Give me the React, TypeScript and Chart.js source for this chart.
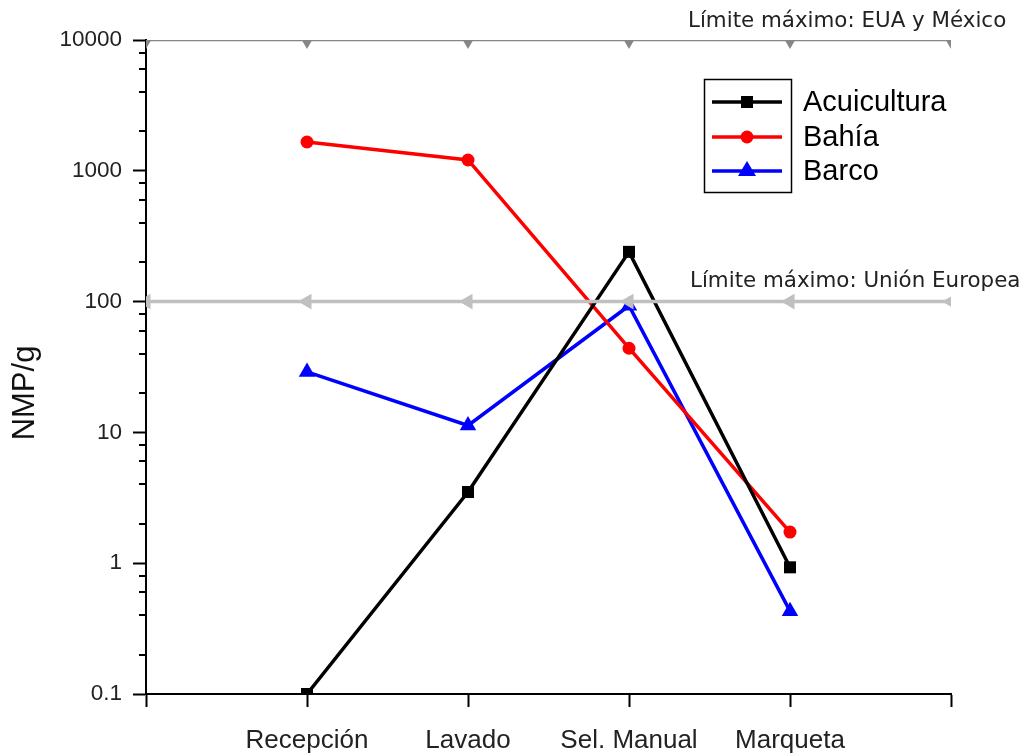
import React, { useEffect, useRef } from 'react';
import { Chart, registerables } from 'chart.js';

Chart.register(...registerables);

const categories = ['Recepción', 'Lavado', 'Sel. Manual', 'Marqueta'];
const categoryPositions = [1, 2, 3, 4];
const acuicultura = [0.1, 3.5, 240, 0.93];
const bahia = [1660, 1210, 44, 1.73];
const barco = [29, 11.3, 93, 0.43];
const limitPositions = [0, 1, 2, 3, 4, 5];
const limitEUAMexico = 10000;
const limitUE = 100;
const yTickValues = [0.1, 1, 10, 100, 1000, 10000];
const yMinorMultipliers = [2, 4, 6, 8];
const seriesNames = ['Acuicultura', 'Bahía', 'Barco'];
const seriesColors = ['#000000', '#ff0000', '#0000ff'];
const limitLabels = ['Límite máximo: EUA y México', 'Límite máximo: Unión Europea'];
const yTitle = 'NMP/g';

const SANS = '"Liberation Sans", Arial, sans-serif';

function toPoints(vals: number[]) {
  return vals.map((v, i) => ({ x: categoryPositions[i], y: v }));
}

function drawMarker(ctx: CanvasRenderingContext2D, kind: string, x: number, y: number, color: string) {
  ctx.save();
  ctx.fillStyle = color;
  ctx.beginPath();
  if (kind === 'rect') {
    ctx.rect(x - 6, y - 6, 12, 12);
  } else if (kind === 'circle') {
    ctx.arc(x, y, 6.5, 0, Math.PI * 2);
  } else {
    ctx.moveTo(x, y - 10);
    ctx.lineTo(x + 9, y + 5);
    ctx.lineTo(x - 9, y + 5);
    ctx.closePath();
  }
  ctx.fill();
  ctx.restore();
}

const overlayPlugin = {
  id: 'overlay',
  afterDraw(chart: any) {
    const ctx: CanvasRenderingContext2D = chart.ctx;
    const y = chart.scales.y;
    const x = chart.scales.x;
    const left = x.left;
    ctx.save();
    // minor ticks on log axis
    ctx.strokeStyle = '#000';
    ctx.lineWidth = 2;
    for (let p = -1; p < 4; p++) {
      for (const m of yMinorMultipliers) {
        const v = m * Math.pow(10, p);
        const py = Math.round(y.getPixelForValue(v));
        ctx.beginPath();
        ctx.moveTo(left - 7, py);
        ctx.lineTo(left, py);
        ctx.stroke();
      }
    }
    // y title
    ctx.save();
    ctx.translate(25, 393);
    ctx.rotate(-Math.PI / 2);
    ctx.font = `31px ${SANS}`;
    ctx.fillStyle = '#111';
    ctx.textAlign = 'center';
    ctx.textBaseline = 'middle';
    ctx.fillText(yTitle, 0, 0);
    ctx.restore();
    // limit labels
    ctx.font = '21.4px "DejaVu Sans", sans-serif';
    ctx.fillStyle = '#222';
    ctx.textAlign = 'left';
    ctx.textBaseline = 'alphabetic';
    ctx.fillText(limitLabels[0], 688, 27);
    ctx.fillText(limitLabels[1], 690, 287);
    // legend
    ctx.strokeStyle = '#000';
    ctx.lineWidth = 1.5;
    ctx.strokeRect(704.5, 79.5, 87, 113);
    const rowsY = [102, 137, 171];
    const kinds = ['rect', 'circle', 'triangle'];
    ctx.font = `29px ${SANS}`;
    ctx.textBaseline = 'middle';
    for (let i = 0; i < seriesNames.length; i++) {
      ctx.strokeStyle = seriesColors[i];
      ctx.lineWidth = 3.5;
      ctx.beginPath();
      ctx.moveTo(712, rowsY[i]);
      ctx.lineTo(782, rowsY[i]);
      ctx.stroke();
      drawMarker(ctx, kinds[i], 747, rowsY[i], seriesColors[i]);
      ctx.fillStyle = '#000';
      ctx.fillText(seriesNames[i], 803, rowsY[i] + 1);
    }
    ctx.restore();
  },
};

export default function App() {
  const ref = useRef<HTMLCanvasElement>(null);
  useEffect(() => {
    if (!ref.current) return;
    const chart = new Chart(ref.current, {
      type: 'line',
      data: {
        datasets: [
          {
            label: 'EUA y México',
            data: limitPositions.map((p) => ({ x: p, y: limitEUAMexico })),
            borderColor: '#868686',
            backgroundColor: '#868686',
            borderWidth: 2.5,
            pointStyle: 'triangle',
            rotation: 180,
            pointRadius: 9,
            pointBorderWidth: 0,
            order: -2,
          },
          {
            label: 'Unión Europea',
            data: limitPositions.map((p) => ({ x: p, y: limitUE })),
            borderColor: '#c0c0c0',
            backgroundColor: '#c0c0c0',
            borderWidth: 3.5,
            pointStyle: 'triangle',
            rotation: -90,
            pointRadius: 9,
            pointBorderWidth: 0,
            order: -1,
          },
          {
            label: seriesNames[0],
            data: toPoints(acuicultura),
            borderColor: seriesColors[0],
            backgroundColor: seriesColors[0],
            borderWidth: 3.5,
            pointStyle: 'rect',
            pointRadius: 8.5,
            pointBorderWidth: 0,
          },
          {
            label: seriesNames[1],
            data: toPoints(bahia),
            borderColor: seriesColors[1],
            backgroundColor: seriesColors[1],
            borderWidth: 3.5,
            pointStyle: 'circle',
            pointRadius: 6.5,
            pointBorderWidth: 0,
          },
          {
            label: seriesNames[2],
            data: toPoints(barco),
            borderColor: seriesColors[2],
            backgroundColor: seriesColors[2],
            borderWidth: 3.5,
            pointStyle: 'triangle',
            pointRadius: 9.5,
            pointBorderWidth: 0,
          },
        ],
      },
      options: {
        responsive: false,
        animation: false,
        events: [],
        layout: { padding: { top: 40, right: 74, bottom: 0, left: 0 } },
        plugins: { legend: { display: false }, tooltip: { enabled: false }, title: { display: false } },
        scales: {
          x: {
            type: 'linear',
            min: 0,
            max: 5,
            afterBuildTicks: (scale: any) => {
              scale.ticks = limitPositions.map((v) => ({ value: v }));
            },
            afterFit: (scale: any) => {
              scale.height = 60;
            },
            grid: { drawOnChartArea: false, drawTicks: true, tickLength: 13, tickColor: '#000', tickWidth: 2 },
            border: { display: true, color: '#000', width: 2 },
            ticks: {
              autoSkip: false,
              maxRotation: 0,
              padding: 18,
              color: '#222',
              font: { family: SANS, size: 26 },
              callback: (v: any) => {
                const idx = categoryPositions.indexOf(Number(v));
                return idx >= 0 ? categories[idx] : '';
              },
            },
          },
          y: {
            type: 'logarithmic',
            min: 0.1,
            max: 10000,
            afterBuildTicks: (scale: any) => {
              scale.ticks = yTickValues.map((v) => ({ value: v, major: true }));
            },
            afterFit: (scale: any) => {
              scale.width = 146;
            },
            grid: { drawOnChartArea: false, drawTicks: true, tickLength: 13, tickColor: '#000', tickWidth: 2 },
            border: { display: true, color: '#000', width: 2 },
            ticks: {
              autoSkip: false,
              padding: 11,
              color: '#222',
              font: { family: SANS, size: 22.5 },
              callback: (v: any) => String(v),
            },
          },
        },
      },
      plugins: [overlayPlugin],
    });
    return () => chart.destroy();
  }, []);
  return (
    <div style={{ position: 'fixed', left: 0, top: 0, width: 1025, height: 754, background: '#fff' }}>
      <canvas ref={ref} width={1025} height={754} style={{ display: 'block', width: 1025, height: 754 }} />
    </div>
  );
}
